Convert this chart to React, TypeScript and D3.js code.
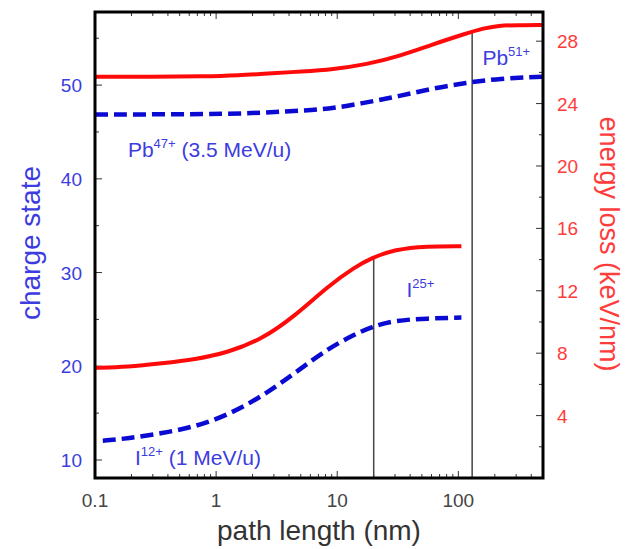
import React from "react";
import * as d3 from "d3";

// Pb 3.5 MeV/u curves
const pbEnergyNm = [0.1, 0.3, 0.8, 1.5, 3, 5, 9.2, 17.5, 32.6, 61, 116, 157, 217, 300, 500];
const pbEnergy = [25.72, 25.72, 25.74, 25.8, 25.95, 26.05, 26.19, 26.51, 27.04, 27.79, 28.49, 28.81, 29.0, 29.03, 29.03];
const pbChargeNm = [0.1, 1, 2.4, 5.5, 9.2, 17.5, 32.6, 61, 116, 217, 500];
const pbCharge = [46.87, 46.88, 47.05, 47.3, 47.5, 48.15, 48.83, 49.64, 50.25, 50.7, 50.9];

// I 1 MeV/u curves
const iEnergyNm = [0.1, 0.187, 0.357, 0.67, 1.25, 2.37, 4.45, 8.4, 13.9, 19.1, 29.8, 55, 106];
const iEnergy = [7.06, 7.12, 7.35, 7.6, 8.04, 8.88, 10.37, 12.3, 13.5, 14.1, 14.65, 14.86, 14.86];
const iChargeNm = [0.116, 0.187, 0.357, 0.67, 1.25, 2.37, 4.45, 8.4, 13.9, 19.1, 29.8, 55, 106];
const iCharge = [12.06, 12.3, 12.85, 13.55, 14.8, 16.75, 19.25, 21.9, 23.4, 24.2, 24.9, 25.1, 25.2];

// vertical marker lines (nm, energy where they stop)
const markerNm = [20, 130];
const markerTop = [14.2, 28.6];

const xTickLabels = ["0.1", "1", "10", "100"];
const chargeTicks = [10, 20, 30, 40, 50];
const energyTicks = [4, 8, 12, 16, 20, 24, 28];

const BLUE_LINE = "#0a0ad2";
const BLUE_TEXT = "#3c3ce0";
const RED_LINE = "#ff0a0a";
const RED_TEXT = "#ff3c3c";
const FONT = "'Liberation Sans', Arial, sans-serif";

export default function App() {
  const W = 632, H = 549;
  const left = 95, right = 543, top = 12, bottom = 478;

  const x = d3.scaleLog().domain([0.1, 500]).range([left, right]);
  const yC = d3.scaleLinear().domain([8.08, 57.8]).range([bottom, top]);
  const yE = d3.scaleLinear().domain([0, 29.87]).range([bottom, top]);

  const mk = (xs: number[], ys: number[], sc: d3.ScaleLinear<number, number>) =>
    d3
      .line<number>()
      .x((_, i) => x(xs[i]))
      .y((d) => sc(d))
      .curve(d3.curveBasis)(ys) as string;

  // minor / major ticks along x
  const xMajor = [1, 10, 100];
  const xMinor: number[] = [];
  [0.1, 1, 10, 100].forEach((dec) => {
    for (let k = 2; k <= 9; k++) {
      const v = dec * k;
      if (v <= 500) xMinor.push(v);
    }
  });
  const chargeMinor = [15, 25, 35, 45, 55];
  const energyMinor = [2, 6, 10, 14, 18, 22, 26];

  const tickStroke = "#333";

  return (
    <svg width={W} height={H} style={{ position: "absolute", left: 0, top: 0, background: "#fff" }} fontFamily={FONT}>
      {/* ticks */}
      <g stroke={tickStroke} strokeWidth={1}>
        {xMajor.map((v) => (
          <g key={"xM" + v}>
            <line x1={x(v)} x2={x(v)} y1={bottom} y2={bottom - 7} />
            <line x1={x(v)} x2={x(v)} y1={top} y2={top + 7} />
          </g>
        ))}
        {xMinor.map((v) => (
          <g key={"xm" + v}>
            <line x1={x(v)} x2={x(v)} y1={bottom} y2={bottom - 4} />
            <line x1={x(v)} x2={x(v)} y1={top} y2={top + 4} />
          </g>
        ))}
        {chargeTicks.map((v) => (
          <line key={"cM" + v} x1={left} x2={left + 7} y1={yC(v)} y2={yC(v)} />
        ))}
        {chargeMinor.map((v) => (
          <line key={"cm" + v} x1={left} x2={left + 4} y1={yC(v)} y2={yC(v)} />
        ))}
        {energyTicks.map((v) => (
          <line key={"eM" + v} x1={right} x2={right - 7} y1={yE(v)} y2={yE(v)} />
        ))}
        {energyMinor.map((v) => (
          <line key={"em" + v} x1={right} x2={right - 4} y1={yE(v)} y2={yE(v)} />
        ))}
      </g>

      {/* marker lines */}
      {markerNm.map((v, i) => (
        <line key={"mk" + v} x1={x(v)} x2={x(v)} y1={bottom} y2={yE(markerTop[i])} stroke="#444" strokeWidth={1.5} />
      ))}

      {/* curves */}
      <path d={mk(pbEnergyNm, pbEnergy, yE)} fill="none" stroke={RED_LINE} strokeWidth={4} />
      <path d={mk(iEnergyNm, iEnergy, yE)} fill="none" stroke={RED_LINE} strokeWidth={4} />
      <path d={mk(pbChargeNm, pbCharge, yC)} fill="none" stroke={BLUE_LINE} strokeWidth={4.5} strokeDasharray="13,6" />
      <path d={mk(iChargeNm, iCharge, yC)} fill="none" stroke={BLUE_LINE} strokeWidth={4.5} strokeDasharray="13,6" />

      {/* frame */}
      <rect x={left} y={top} width={right - left} height={bottom - top} fill="none" stroke="#000" strokeWidth={3} />

      {/* tick labels */}
      {xTickLabels.map((t) => (
        <text key={"xl" + t} x={x(+t)} y={507} textAnchor="middle" fontSize={19} fill="#444">
          {t}
        </text>
      ))}
      {chargeTicks.map((v) => (
        <text key={"cl" + v} x={82} y={yC(v) + 7} textAnchor="end" fontSize={19} fill={BLUE_TEXT}>
          {v}
        </text>
      ))}
      {energyTicks.map((v) => (
        <text key={"el" + v} x={557} y={yE(v) + 7} textAnchor="start" fontSize={19} fill={RED_TEXT}>
          {v}
        </text>
      ))}

      {/* axis titles */}
      <text x={319} y={540} textAnchor="middle" fontSize={28} fill="#333">
        path length (nm)
      </text>
      <text transform={`translate(40,243) rotate(-90)`} textAnchor="middle" fontSize={28} fill={BLUE_TEXT}>
        charge state
      </text>
      <text transform={`translate(600,244) rotate(90)`} textAnchor="middle" fontSize={27} fill={RED_TEXT}>
        energy loss (keV/nm)
      </text>

      {/* annotations */}
      <text x={x(0.187)} y={yC(42.3)} fontSize={21} fill={BLUE_TEXT}>
        Pb<tspan fontSize={13} dy={-9}>47+</tspan>
        <tspan dy={9}> (3.5 MeV/u)</tspan>
      </text>
      <text x={x(158)} y={yC(52.1)} fontSize={21} fill={BLUE_TEXT}>
        Pb<tspan fontSize={13} dy={-9}>51+</tspan>
      </text>
      <text x={x(37.3)} y={yC(27.4)} fontSize={21} fill={BLUE_TEXT}>
        I<tspan fontSize={13} dy={-9}>25+</tspan>
      </text>
      <text x={x(0.214)} y={yC(9.47)} fontSize={21} fill={BLUE_TEXT}>
        I<tspan fontSize={13} dy={-9}>12+</tspan>
        <tspan dy={9}> (1 MeV/u)</tspan>
      </text>
    </svg>
  );
}
